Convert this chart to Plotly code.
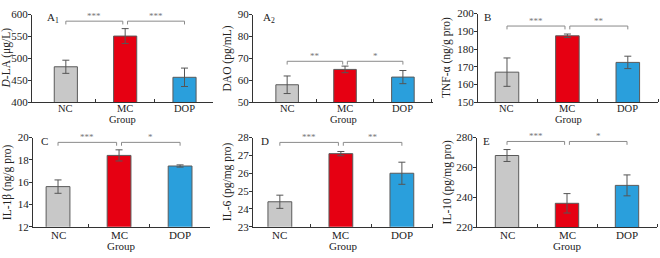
import plotly.graph_objects as go

groups = ["NC", "MC", "DOP"]
colors = ["#c8c8c8", "#e60012", "#2a9fdc"]

dla_mean = [481, 551, 457]
dla_err = [15, 17, 21]
dao_mean = [58, 65, 61.5]
dao_err = [4, 1.5, 3]
tnf_mean = [167, 187.5, 172.5]
tnf_err = [8, 1, 3.5]
il1b_mean = [15.6, 18.4, 17.45]
il1b_err = [0.6, 0.5, 0.1]
il6_mean = [24.4, 27.1, 26.0]
il6_err = [0.37, 0.12, 0.62]
il10_mean = [268, 236, 248]
il10_err = [4, 6.5, 7]

y_titles = ["<i>D</i>-LA (μg/L)", "DAO (pg/mL)", "TNF-α (ng/g pro)",
            "IL-1β (ng/g pro)", "IL-6 (pg/mg pro)", "IL-10 (pg/mg pro)"]
panel_labels = ["A<sub>1</sub>", "A<sub>2</sub>", "B", "C", "D", "E"]
y_ranges = [[400, 600], [50, 90], [150, 200], [12, 20], [23, 28], [220, 280]]
y_dticks = [50, 10, 10, 2, 1, 20]
bracket_levels = [585, 68.7, 193, 19.57, 27.73, 277.4]
stars = [["***", "***"], ["**", "*"], ["***", "**"], ["***", "*"], ["***", "**"], ["***", "*"]]

means = [dla_mean, dao_mean, tnf_mean, il1b_mean, il6_mean, il10_mean]
errs = [dla_err, dao_err, tnf_err, il1b_err, il6_err, il10_err]

W, H = 660, 258
px_x = [(32, 213), (253, 433), (478, 658), (33, 210), (253, 433), (477, 657)]
px_y = [(9, 101), (9, 101), (8, 101), (138, 231.5), (138, 231.5), (138, 232)]
x_ranges = [[0.43, 3.48], [0.41, 3.52], [0.52, 3.5], [0.59, 3.49], [0.56, 3.51], [0.5, 3.5]]
ylab_x = [6, 227, 447, 7, 227, 447]
lab_dx = [13, 8, 4, 6, 6, 4]
cat_dy = [7, 7, 7, 8.5, 8.5, 8.5]
grp_dy = [18.5, 18.5, 18.5, 20, 20, 20]

font_family = "Liberation Serif"
fig = go.Figure()
annotations = []
layout = {}
xpos = [1, 2, 3]

for i in range(6):
    ax = "" if i == 0 else str(i + 1)
    xa, ya = "x" + ax, "y" + ax
    fig.add_trace(go.Bar(
        x=xpos, y=means[i], width=0.39, xaxis=xa, yaxis=ya,
        marker=dict(color=colors, line=dict(color="#5a5a5a", width=1)),
        error_y=dict(type="data", array=errs[i], color="#555555", thickness=1, width=3.5),
        showlegend=False,
    ))
    lo, hi = y_ranges[i]
    drop = (hi - lo) * 3.5 / 93
    b = bracket_levels[i]
    for (x0, x1), s in zip([(1, 1.96), (2.04, 3)], stars[i]):
        fig.add_trace(go.Scatter(
            x=[x0, x0, x1, x1], y=[b - drop, b, b, b - drop], mode="lines",
            line=dict(color="#8a8a8a", width=1), xaxis=xa, yaxis=ya,
            showlegend=False, hoverinfo="skip"))
        annotations.append(dict(x=(x0 + x1) / 2, y=b, xref=xa, yref=ya, text=s,
                                showarrow=False, yanchor="bottom", yshift=-2,
                                font=dict(family=font_family, size=9, color="#777777")))
    l, r = px_x[i]
    t, bt = px_y[i]
    layout["xaxis" + ax] = dict(
        domain=[l / W, r / W], range=x_ranges[i], anchor=ya,
        showticklabels=False, ticks="", showline=True,
        linecolor="#333333", linewidth=1, showgrid=False, zeroline=False,
        minor=dict(tickvals=[1.5, 2.5, 3.5], ticks="inside", ticklen=3,
                   tickcolor="#333333", tickwidth=1, showgrid=False),
    )
    layout["yaxis" + ax] = dict(
        domain=[1 - bt / H, 1 - t / H], range=y_ranges[i], anchor=xa,
        dtick=y_dticks[i], tick0=lo, ticks="outside", ticklen=3,
        tickcolor="#333333", showline=True, linecolor="#333333", linewidth=1,
        showgrid=False, zeroline=False, ticklabelstandoff=-2,
        tickfont=dict(family=font_family, size=11, color="#222222"),
    )
    fs = 10.5 if i < 3 else 11
    for xv, g in zip(xpos, groups):
        annotations.append(dict(x=xv, y=1 - (bt + cat_dy[i]) / H, xref=xa, yref="paper",
                                text=g, showarrow=False, xanchor="center", yanchor="middle",
                                font=dict(family=font_family, size=fs, color="#222222")))
    annotations.append(dict(x=ylab_x[i] / W, y=1 - (t + bt) / 2 / H, xref="paper", yref="paper",
                            text=y_titles[i], textangle=-90, showarrow=False,
                            xanchor="center", yanchor="middle",
                            font=dict(family=font_family, size=11.5, color="#222222")))
    annotations.append(dict(x=(l + lab_dx[i]) / W, y=1 - (t + 3.5) / H, xref="paper", yref="paper",
                            text=panel_labels[i], showarrow=False,
                            xanchor="left", yanchor="middle",
                            font=dict(family=font_family, size=11, color="#222222")))
    annotations.append(dict(x=(l + r) / 2 / W, y=1 - (bt + grp_dy[i]) / H, xref="paper", yref="paper",
                            text="Group", showarrow=False, xanchor="center", yanchor="middle",
                            font=dict(family=font_family, size=fs, color="#222222")))

fig.update_layout(
    width=W, height=H, margin=dict(l=0, r=0, t=0, b=0),
    paper_bgcolor="white", plot_bgcolor="white",
    annotations=annotations, **layout,
)
fig.write_html("out.html")
